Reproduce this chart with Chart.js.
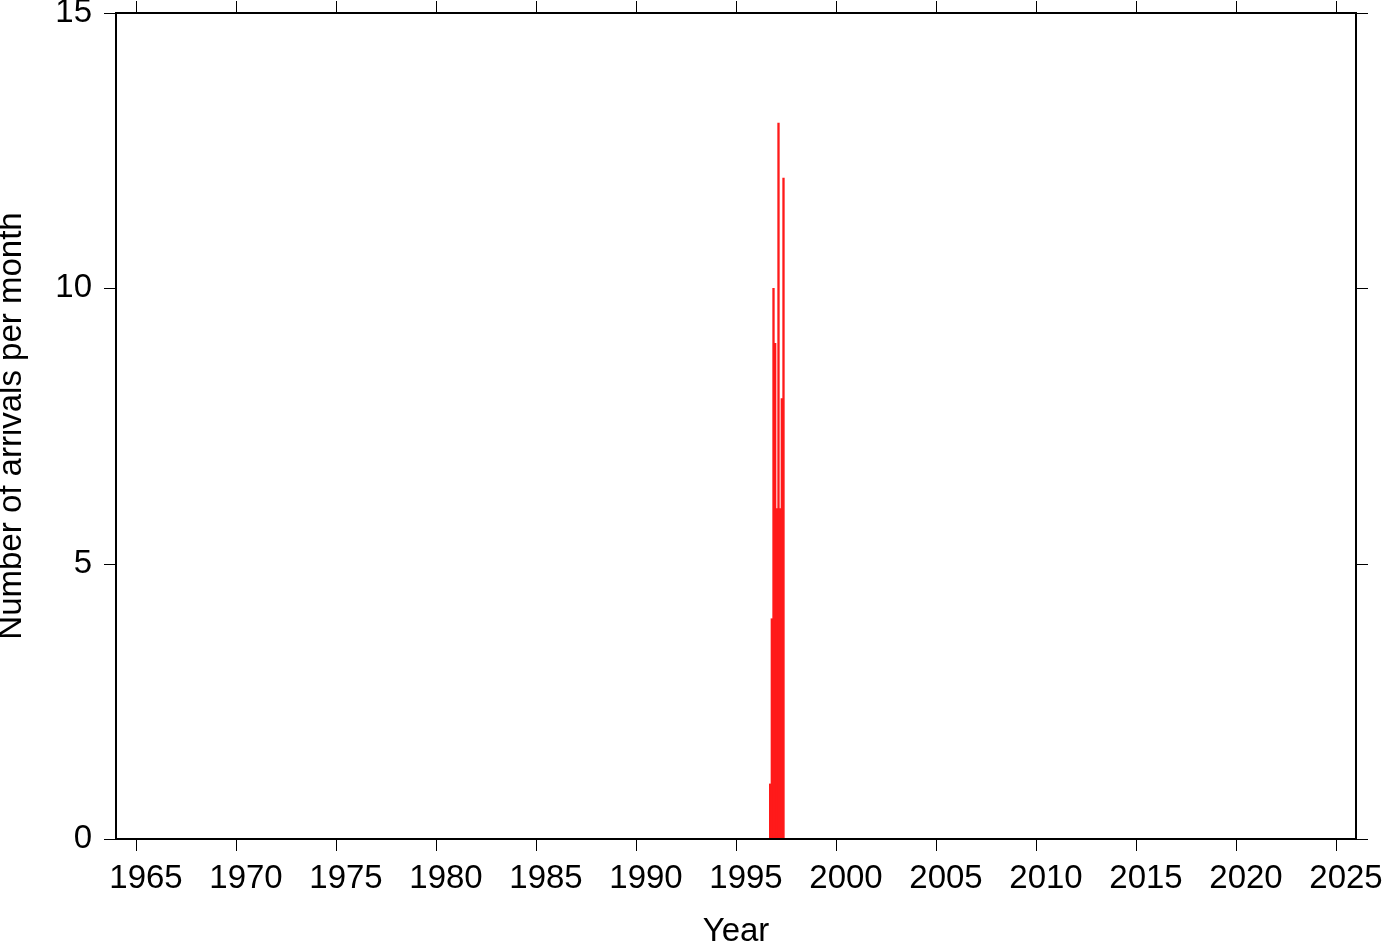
<!DOCTYPE html>
<html><head><meta charset="utf-8">
<script src="https://cdn.jsdelivr.net/npm/chart.js@4"></script>
<style>html,body{margin:0;padding:0;background:#fff}canvas{display:block}</style>
</head><body>
<canvas id="c" width="1382" height="942"></canvas>
<script>
// ---- data ----
const months = ["1996-09","1996-10","1996-11","1996-12","1997-01","1997-02","1997-03","1997-04","1997-05"];
const arrivals = [1, 4, 10, 9, 6, 13, 6, 8, 12];
const xTickYears = [1965,1970,1975,1980,1985,1990,1995,2000,2005,2010,2015,2020,2025];
const yTickValues = [0, 5, 10, 15];
const xRange = [1964, 2026];
const yRange = [0, 15];
const xTitle = "Year";
const yTitle = "Number of arrivals per month";

function monthToYear(s){ const p = s.split('-').map(Number); return p[0] + (p[1] - 0.5) / 12; }

const FONT = "'Liberation Sans', Arial, Helvetica, sans-serif";

const framePlugin = {
  id: 'frame',
  afterDraw(chart){
    const {ctx, chartArea:{left,right,top,bottom}, scales:{x,y}} = chart;
    ctx.save();
    ctx.strokeStyle = '#000';
    ctx.lineWidth = 1;
    ctx.beginPath();
    xTickYears.forEach(v => {
      const px = Math.round(x.getPixelForValue(v)) + 0.5;
      ctx.moveTo(px, bottom); ctx.lineTo(px, bottom + 12);
      ctx.moveTo(px, top); ctx.lineTo(px, top - 12);
    });
    yTickValues.forEach(v => {
      const py = Math.round(y.getPixelForValue(v)) + 0.5;
      ctx.moveTo(left - 12, py); ctx.lineTo(left, py);
      ctx.moveTo(right, py); ctx.lineTo(right + 12, py);
    });
    ctx.stroke();
    ctx.lineWidth = 2;
    ctx.strokeRect(left, top, right - left, bottom - top);
    ctx.restore();
  }
};

function noPad(s){ s.paddingLeft = 0; s.paddingRight = 0; s.paddingTop = 0; s.paddingBottom = 0; }

new Chart(document.getElementById('c'), {
  type: 'bar',
  data: {
    datasets: [{
      data: months.map((m, i) => ({x: monthToYear(m), y: arrivals[i]})),
      backgroundColor: '#ff1a1a',
      borderWidth: 0,
      barPercentage: 1,
      categoryPercentage: 1,
      grouped: false
    }]
  },
  options: {
    responsive: false,
    animation: false,
    devicePixelRatio: 1,
    layout: {padding: {top: 13, right: 26, left: 0, bottom: 0}},
    plugins: {legend: {display: false}, tooltip: {enabled: false}},
    scales: {
      x: {
        type: 'linear',
        min: xRange[0], max: xRange[1],
        offset: false,
        afterBuildTicks: s => { s.ticks = xTickYears.map(v => ({value: v})); },
        ticks: {font: {family: FONT, size: 33}, color: '#000', padding: 20, labelOffset: 10, maxRotation: 0, autoSkip: false, callback: v => String(v)},
        grid: {display: false, drawTicks: false},
        border: {display: false},
        title: {display: true, text: xTitle, color: '#000', font: {family: FONT, size: 33, lineHeight: 0.64}, padding: 0},
        afterFit: s => { s.height = 103; noPad(s); }
      },
      y: {
        type: 'linear',
        min: yRange[0], max: yRange[1],
        afterBuildTicks: s => { s.ticks = yTickValues.map(v => ({value: v})); },
        ticks: {font: {family: FONT, size: 33}, color: '#000', padding: 24, callback: v => String(v)},
        grid: {display: false, drawTicks: false},
        border: {display: false},
        title: {display: true, text: yTitle, color: '#000', font: {family: FONT, size: 33, lineHeight: 0.73}, padding: 0},
        afterFit: s => { s.width = 116; noPad(s); }
      }
    }
  },
  plugins: [framePlugin]
});
</script>
</body></html>
